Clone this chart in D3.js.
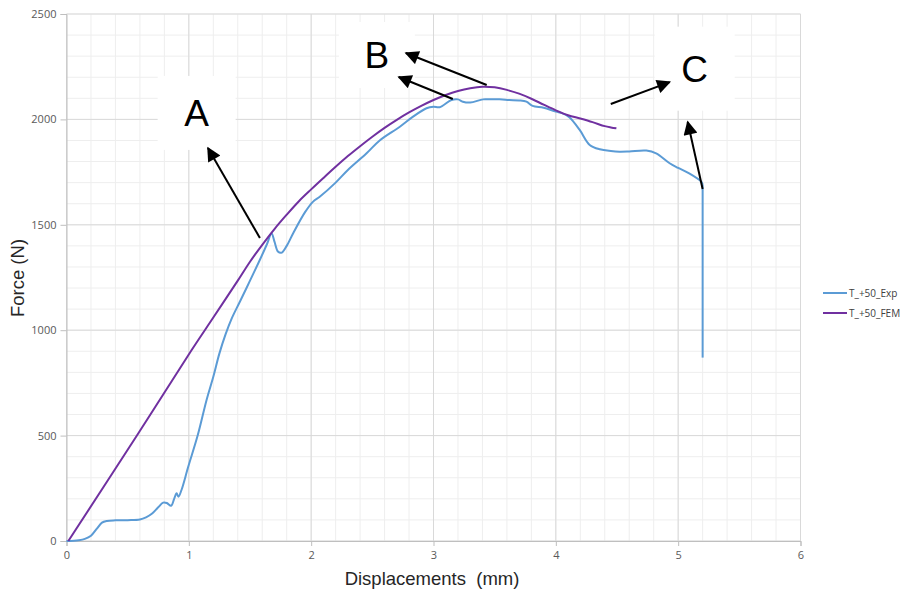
<!DOCTYPE html>
<html>
<head>
<meta charset="utf-8">
<script src="https://cdn.jsdelivr.net/npm/d3@7"></script>
<style>
  body { margin: 0; background: #fff; }
  .tick text { font-family: "Open Sans", "Liberation Sans", sans-serif; font-size: 11px; fill: #595959; }
  .title { font-family: "Liberation Sans", Arial, sans-serif; font-size: 18.5px; fill: #262626; }
  .legend text { font-family: "Open Sans", "Liberation Sans", sans-serif; font-size: 10px; fill: #404040; }
  .note { font-family: "Liberation Sans", Arial, sans-serif; font-size: 37px; fill: #000; }
</style>
</head>
<body>
<div id="graph"></div>
<script>
// experimental curve, displacement (mm) / force (N)
var expX = [0, 0.1, 0.15, 0.2, 0.25, 0.29, 0.33, 0.4, 0.5, 0.6, 0.65, 0.7, 0.75, 0.79, 0.82, 0.855, 0.88, 0.9, 0.915, 0.94, 0.995,
  1.072, 1.145, 1.2, 1.25, 1.3, 1.35, 1.417, 1.5, 1.58, 1.64, 1.676, 1.7, 1.73, 1.76, 1.8, 1.853, 1.95, 2.016, 2.07,
  2.2, 2.3, 2.453, 2.56, 2.725, 2.833, 2.943, 3.0, 3.05, 3.147, 3.2, 3.24, 3.3, 3.405, 3.46, 3.54, 3.62, 3.7, 3.76,
  3.81, 3.9, 4.0, 4.05, 4.11, 4.195, 4.277, 4.36, 4.45, 4.52, 4.6, 4.74, 4.82, 4.93, 5.0, 5.09, 5.19, 5.2, 5.2];
var expY = [0, 4, 10, 25, 60, 87, 95, 98, 99, 102, 112, 130, 160, 182, 180, 167, 200, 226, 210, 242, 352,
  500, 669, 779, 890, 980, 1055, 1135, 1235, 1333, 1410, 1460, 1420, 1372, 1368, 1400, 1460, 1560, 1610, 1633,
  1700, 1760, 1839, 1900, 1965, 2013, 2053, 2060, 2058, 2092, 2095, 2084, 2080, 2095, 2095, 2095, 2092, 2090, 2084,
  2064, 2055, 2037, 2030, 2010, 1950, 1879, 1858, 1850, 1847, 1848, 1852, 1839, 1792, 1770, 1744, 1704, 1690, 870];

// FEM curve
var femX = [0.015, 0.573, 1.023, 1.2, 1.4, 1.5, 1.6, 1.7, 1.8, 1.9, 2.0, 2.1, 2.2, 2.3, 2.4, 2.5, 2.6, 2.7, 2.8,
  2.9, 3.0, 3.1, 3.2, 3.3, 3.4, 3.5, 3.6, 3.7, 3.8, 3.9, 4.0, 4.1, 4.2, 4.3, 4.4, 4.45, 4.495];
var femY = [0, 498, 906, 1060, 1235, 1325, 1405, 1480, 1548, 1612, 1668, 1722, 1775, 1826, 1873, 1918, 1960, 1998, 2033,
  2064, 2092, 2116, 2135, 2148, 2155, 2152, 2140, 2122, 2098, 2070, 2043, 2020, 2004, 1987, 1968, 1962, 1958];

var seriesNames = ["T_+50_Exp", "T_+50_FEM"];
var seriesColors = ["#5b9bd5", "#7030a0"];

var xTicks = [0, 1, 2, 3, 4, 5, 6];
var yTicks = [0, 500, 1000, 1500, 2000, 2500];

// annotation letters and arrows (data coordinates)
var noteText = ["A", "B", "C"];
var noteX = [1.064, 2.537, 5.135];
var noteY = [1969, 2244, 2179];
var arrowX1 = [1.581, 3.435, 3.158, 4.449, 5.2];
var arrowY1 = [1437, 2163, 2097, 2073, 1670];
var arrowX2 = [1.156, 2.774, 2.716, 4.931, 5.078];
var arrowY2 = [1864, 2315, 2201, 2177, 1988];

var width = 905, height = 590;

var x = d3.scaleLinear().domain([0, 6]).range([66.5, 800.5]);
var y = d3.scaleLinear().domain([0, 2500]).range([541, 14]);

var svg = d3.select("#graph").append("svg")
    .attr("width", width)
    .attr("height", height);

// minor grid
var minorX = d3.range(0, 6.001, 0.2);
var minorY = d3.range(0, 2501, 100);
svg.append("g").selectAll("line").data(minorX).enter().append("line")
    .attr("x1", d => x(d)).attr("x2", d => x(d))
    .attr("y1", y(0)).attr("y2", y(2500))
    .attr("stroke", "#eeeeee").attr("stroke-width", 1);
svg.append("g").selectAll("line").data(minorY).enter().append("line")
    .attr("x1", x(0)).attr("x2", x(6))
    .attr("y1", d => y(d)).attr("y2", d => y(d))
    .attr("stroke", "#eeeeee").attr("stroke-width", 1);

// major grid
svg.append("g").selectAll("line").data(xTicks).enter().append("line")
    .attr("x1", d => x(d)).attr("x2", d => x(d))
    .attr("y1", y(0)).attr("y2", y(2500))
    .attr("stroke", "#d9d9d9").attr("stroke-width", 1);
svg.append("g").selectAll("line").data(yTicks).enter().append("line")
    .attr("x1", x(0)).attr("x2", x(6))
    .attr("y1", d => y(d)).attr("y2", d => y(d))
    .attr("stroke", "#d9d9d9").attr("stroke-width", 1);

// white boxes behind the letters
var boxW = [78, 76, 80], boxH = [74, 66, 84];
noteText.forEach(function(t, i) {
  var cx = x(noteX[i]), cy = y(noteY[i]) - 13;
  svg.append("rect")
      .attr("x", cx - boxW[i] / 2).attr("y", cy - boxH[i] / 2)
      .attr("width", boxW[i]).attr("height", boxH[i])
      .attr("fill", "#fff");
});

// axes
var xAxis = svg.append("g")
    .attr("transform", "translate(0," + y(0) + ")")
    .call(d3.axisBottom(x).tickValues(xTicks).tickSize(5).tickPadding(5).tickFormat(d3.format("d")));
var yAxis = svg.append("g")
    .attr("transform", "translate(" + x(0) + ",0)")
    .call(d3.axisLeft(y).tickValues(yTicks).tickSize(6).tickPadding(4).tickFormat(d3.format("d")));
[xAxis, yAxis].forEach(function(a) {
  a.select(".domain").attr("stroke", "#bfbfbf");
  a.selectAll(".tick line").attr("stroke", "#bfbfbf");
});

// curves
var smooth = d3.line()
    .x(d => x(d[0]))
    .y(d => y(d[1]))
    .curve(d3.curveCatmullRom.alpha(0.5));
var straight = d3.line()
    .x(d => x(d[0]))
    .y(d => y(d[1]));

var expData = expX.map((v, i) => [v, expY[i]]);
var femData = femX.map((v, i) => [v, femY[i]]);
var n = expData.length;

svg.append("path").datum(expData.slice(0, n - 1))
    .attr("d", smooth).attr("fill", "none")
    .attr("stroke", seriesColors[0]).attr("stroke-width", 2);
svg.append("path").datum(expData.slice(n - 2))
    .attr("d", straight).attr("fill", "none")
    .attr("stroke", seriesColors[0]).attr("stroke-width", 2);
svg.append("path").datum(femData)
    .attr("d", smooth).attr("fill", "none")
    .attr("stroke", seriesColors[1]).attr("stroke-width", 2);

// arrows
svg.append("defs").append("marker")
    .attr("id", "head")
    .attr("viewBox", "0 0 10 10")
    .attr("refX", 9).attr("refY", 5)
    .attr("markerUnits", "userSpaceOnUse")
    .attr("markerWidth", 16).attr("markerHeight", 14)
    .attr("orient", "auto")
    .append("path").attr("d", "M0,0L10,5L0,10Z").attr("fill", "#000");

svg.append("g").selectAll("line").data(arrowX1).enter().append("line")
    .attr("x1", (d, i) => x(arrowX1[i])).attr("y1", (d, i) => y(arrowY1[i]))
    .attr("x2", (d, i) => x(arrowX2[i])).attr("y2", (d, i) => y(arrowY2[i]))
    .attr("stroke", "#000").attr("stroke-width", 2)
    .attr("marker-end", "url(#head)");

// letters
svg.append("g").selectAll("text").data(noteText).enter().append("text")
    .attr("class", "note")
    .attr("x", (d, i) => x(noteX[i]))
    .attr("y", (d, i) => y(noteY[i]))
    .attr("text-anchor", "middle")
    .text(d => d);

// axis titles
svg.append("text").attr("class", "title")
    .attr("transform", "translate(24,278) rotate(-90)")
    .attr("text-anchor", "middle")
    .text("Force (N)");
svg.append("text").attr("class", "title")
    .attr("x", 432).attr("y", 585)
    .attr("text-anchor", "middle")
    .attr("xml:space", "preserve")
    .style("white-space", "pre")
    .text("Displacements  (mm)");

// legend
var legend = svg.selectAll(".legend").data(seriesNames).enter().append("g")
    .attr("class", "legend")
    .attr("transform", (d, i) => "translate(823," + (293 + i * 20) + ")");
legend.append("line")
    .attr("x1", 0).attr("x2", 24).attr("y1", 0).attr("y2", 0)
    .attr("stroke", (d, i) => seriesColors[i]).attr("stroke-width", 2);
legend.append("text")
    .attr("x", 26).attr("y", 3.5)
    .text(d => d);
</script>
</body>
</html>
